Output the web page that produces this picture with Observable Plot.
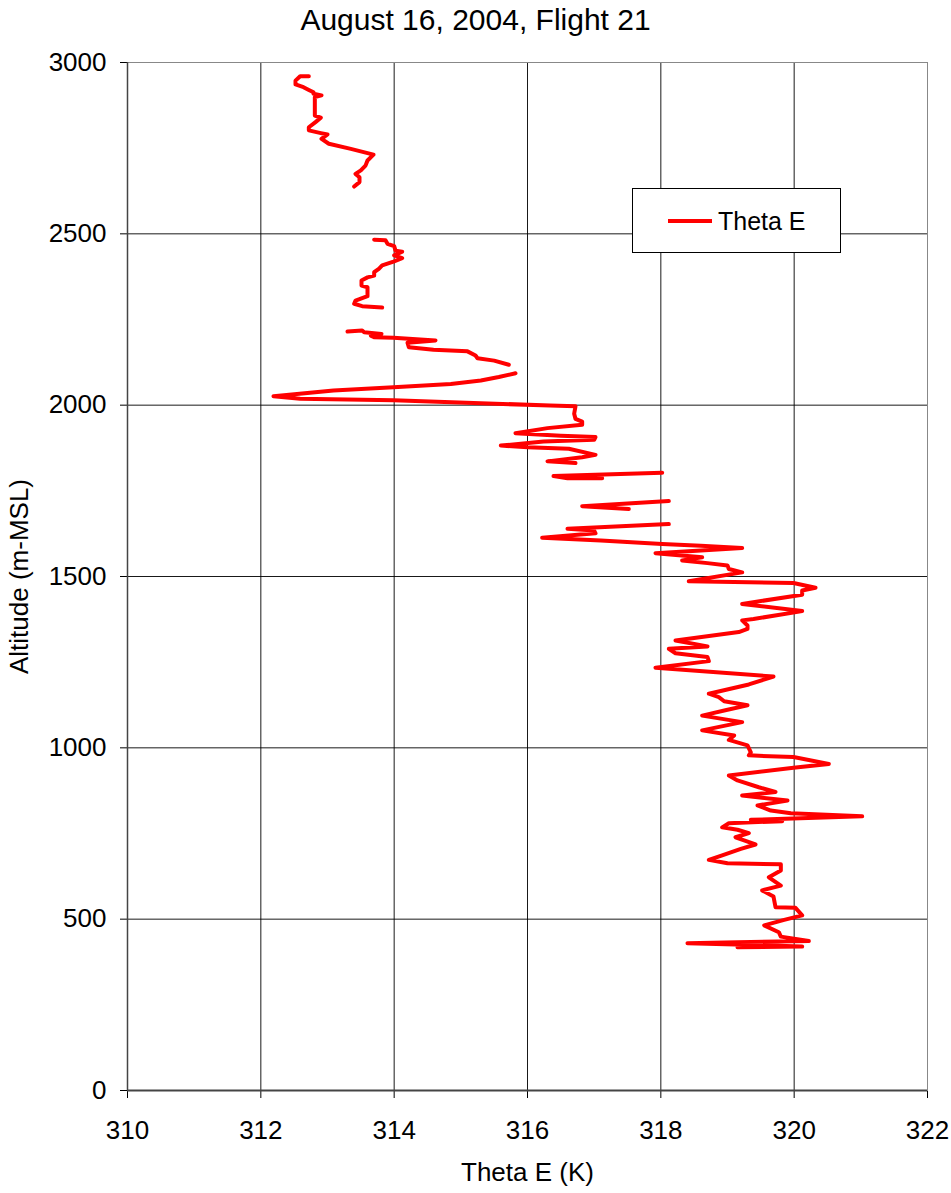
<!DOCTYPE html>
<html><head><meta charset="utf-8">
<script src="https://cdn.jsdelivr.net/npm/d3@7"></script>
<script src="https://cdn.jsdelivr.net/npm/@observablehq/plot@0.6"></script>
<style>
body{margin:0;background:#fff;font-family:"Liberation Sans",Arial,sans-serif;}
#wrap{position:relative;width:951px;height:1193px;}
#title{height:40px;line-height:40px;text-align:center;font-size:30px;color:#000;}
#legend{position:absolute;left:632px;top:188px;width:207px;height:63px;border:1px solid #000;background:#fff;}
#legend .swatch{position:absolute;left:35px;top:30px;width:44px;height:4px;background:#ff0000;}
#legend .lab{position:absolute;left:85px;top:0;line-height:64px;font-size:25px;color:#000;}
</style></head><body>
<div id="wrap">
<div id="title">August 16, 2004, Flight 21</div>
<div id="chart"></div>
<div id="legend"><div class="swatch"></div><div class="lab">Theta E</div></div>
</div>
<script>
const xTicks = [310, 312, 314, 316, 318, 320, 322];
const yTicks = [0, 500, 1000, 1500, 2000, 2500, 3000];
const seriesName = "Theta E";
// null marks a data gap
const altitude = [
2960,2960,2947,2936,2928,2920,2913,2909,2904,2899,2845,2839,2826,2811,2802,2794,2790,2777,2763,2748,2731,2714,2699,2685,2675,2665,2651,2638,
null,
2483,2481,2471,2464,2451,2448,2437,2429,2419,2408,2398,2388,2378,2373,2364,2349,2344,2318,2305,2296,2289,2285,
null,
2215,2218,2213,2208,2203,2198,2197,2189,2182,2169,2162,2157,2145,2137,2130,2118,
null,
2093,2082,2072,2062,2052,2043,2026,2019,2014,1999,1997,1975,1960,1952,1943,1933,1918,1911,1907,1899,1894,1882,1877,1873,1855,1848,1836,1831,
null,
1803,1793,1787,1787,
null,
1720,1705,1697,
null,
1653,1639,1634,1626,1613,1605,1595,1590,1583,1568,1556,1547,1539,1532,1522,1512,1486,1481,1467,1459,1447,1420,1399,1376,1372,1357,1347,1338,1313,1296,1289,1276,1265,1253,1234,1208,1185,1158,1148,1136,1124,1111,1094,1075,1051,1036,1023,1007,987,978,973,953,942,919,905,885,871,861,846,832,817,809,800,790,786,780,768,761,751,739,718,705,686,673,663,660,642,622,598,584,566,535,533,511,498,482,462,449,436,433,430,426,420,418
];
const thetaE = [
312.72,312.59,312.52,312.52,312.64,312.72,312.79,312.79,312.91,312.81,312.81,312.90,312.82,312.72,312.72,312.90,313.00,312.91,313.02,313.35,313.69,313.60,313.57,313.50,313.42,313.48,313.48,313.40,
null,
313.70,313.87,313.90,314.00,314.02,314.12,314.00,314.12,313.99,313.82,313.77,313.70,313.70,313.60,313.51,313.51,313.60,313.60,313.42,313.40,313.52,313.82,
null,
313.30,313.52,313.55,313.81,313.65,313.70,313.99,314.62,314.20,314.22,314.59,315.10,315.22,315.25,315.50,315.72,
null,
315.82,315.57,315.30,314.85,313.99,313.09,312.19,312.59,313.99,316.34,316.72,316.70,316.72,316.82,316.82,316.30,315.82,316.50,317.02,317.00,316.24,315.60,316.00,316.62,317.02,316.82,316.30,316.72,
null,
318.02,316.39,316.60,317.12,
null,
318.12,316.82,317.52,
null,
318.12,316.60,317.00,317.02,316.22,317.10,318.02,318.60,319.22,317.92,318.62,318.32,318.70,319.00,319.02,319.22,318.42,319.99,320.32,320.12,320.12,319.22,320.12,319.39,319.22,319.30,319.30,319.17,318.22,318.70,318.12,318.22,318.70,318.72,317.92,319.69,319.32,318.72,318.87,318.95,319.30,319.00,318.62,319.22,318.62,319.10,319.02,319.30,319.35,319.32,319.99,320.52,319.99,319.02,319.15,319.47,319.72,319.22,319.90,319.45,319.65,319.95,321.02,319.35,319.82,319.02,318.92,319.15,319.32,319.12,319.42,319.20,318.92,318.72,319.00,319.80,319.80,319.62,319.80,319.52,319.69,319.72,320.02,320.12,319.85,319.55,319.77,319.80,320.22,319.15,318.40,319.12,320.12,319.15
];
const rows = thetaE.map((t, i) => ({theta: t == null ? NaN : t, alt: altitude[i] == null ? NaN : altitude[i], series: seriesName}));

const chart = Plot.plot({
  width: 951, height: 1153,
  marginTop: 22, marginLeft: 127, marginRight: 24, marginBottom: 103,
  style: {fontFamily: "'Liberation Sans', Arial, sans-serif", fontSize: "26px", color: "#000", background: "#fff", overflow: "visible"},
  x: {domain: [310, 322], ticks: xTicks, tickFormat: "d", tickSize: 8, tickPadding: 22, label: "Theta E (K)", labelAnchor: "center", labelOffset: 90, labelArrow: "none"},
  y: {domain: [0, 3000], ticks: yTicks, tickFormat: "d", tickSize: 7, tickPadding: 14, label: "Altitude (m-MSL)", labelAnchor: "center", labelOffset: 118, labelArrow: "none"},
  marks: [
    Plot.gridX(xTicks, {stroke: "#000", strokeOpacity: 0.9}),
    Plot.gridY(yTicks, {stroke: "#000", strokeOpacity: 0.9}),
    Plot.frame({stroke: "#888"}),
    Plot.ruleX([310], {stroke: "#444", strokeWidth: 1.5}),
    Plot.ruleY([0], {stroke: "#444", strokeWidth: 2}),
    Plot.line(rows, {x: "theta", y: "alt", stroke: "#ff0000", strokeWidth: 4, strokeLinejoin: "round", strokeLinecap: "round"})
  ]
});
document.getElementById("chart").appendChild(chart);
</script>
</body></html>
